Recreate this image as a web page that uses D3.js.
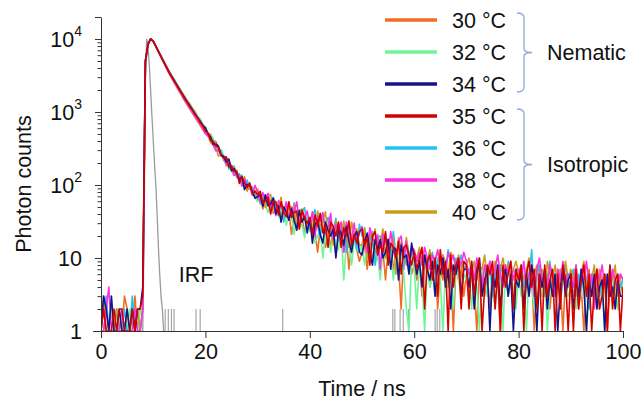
<!DOCTYPE html>
<html>
<head>
<meta charset="utf-8">
<script src="https://cdn.jsdelivr.net/npm/d3@7"></script>
<style>
  body { margin: 0; background: #fff; }
  svg { display: block; font-family: "Liberation Sans", Arial, sans-serif; }
</style>
</head>
<body>
<div id="chart"></div>
<script>
// Fluorescence decay traces, one count per 0.5 ns channel (0 .. 100 ns)
const labels = ["30 °C", "32 °C", "34 °C", "35 °C", "36 °C", "38 °C", "40 °C"];
const colors = ["#f26d21", "#6ff59a", "#14148c", "#d40000", "#22c3f0", "#ff2ee8", "#cc9a1c"];
const drawOrder = [0, 1, 4, 6, 5, 2, 3]; // red ends up on top
const step = 0.5;

const counts30 = [
  1,1,2,1,1,1,2,1,1,3,2,1,1,3,1,2,2,4800,8400,10000,
  9350,7960,6850,5820,5020,4250,3670,3185,2815,2430,2155,1870,1655,1440,1298,1126,1012,871,792,681,
  619,505,495,405,395,304,289,222,240,210,174,182,126,141,116,129,86,91,76,84,
  62,74,47,62,55,62,41,44,58,32,43,36,42,21,40,30,25,37,22,27,
  30,20,23,12,25,28,14,19,15,26,11,19,16,12,20,7,16,18,13,9,
  12,15,7,17,10,12,17,7,13,5,13,11,7,13,8,2,13,8,11,6,
  8,5,9,3,7,10,4,6,8,2,7,5,9,4,6,1,8,5,7,3,
  6,3,7,4,1,8,5,3,6,2,7,4,5,1,6,8,3,5,2,6,
  4,7,2,5,3,6,1,5,8,3,4,6,2,5,3,7,4,1,6,4,
  5,3,6,2,4,1,5,7,3,4,2,6,3,5,1,4,6,3,2,5,
  3];
const counts32 = [
  1,2,1,1,2,1,1,1,2,1,1,2,1,1,1,2,2,5100,8500,10000,
  9310,7990,6810,5850,4985,4270,3640,3195,2790,2440,2125,1862,1632,1448,1276,1130,996,880,776,683,
  623,494,475,433,345,294,308,255,218,214,152,176,151,122,137,104,85,94,95,67,
  59,68,74,53,42,57,48,56,37,39,50,28,41,37,21,37,26,29,19,36,
  23,29,16,20,25,10,22,22,12,23,15,13,24,5,15,17,8,18,13,12,
  15,8,16,11,17,8,11,5,13,11,8,13,5,11,9,14,6,2,1,11,
  7,2,9,5,1,8,4,6,3,9,5,1,7,4,6,2,8,5,3,6,
  5,7,2,6,4,1,7,5,3,8,4,2,6,5,1,7,3,6,4,2,
  6,3,5,1,7,4,2,6,5,3,7,1,4,6,3,5,2,7,4,3,
  4,6,2,5,3,7,1,4,5,3,6,2,4,1,5,3,6,4,2,5,
  4];
const counts34 = [
  1,3,2,1,3,1,1,2,1,1,2,1,2,1,2,2,4,5000,8500,10000,
  9340,7955,6790,5780,4935,4205,3590,3125,2725,2375,2070,1810,1578,1392,1226,1085,955,843,745,657,
  607,501,457,362,365,340,258,248,207,227,157,169,143,118,131,86,102,99,81,66,
  69,74,51,73,52,55,66,40,52,31,50,43,33,47,33,24,45,31,37,22,
  35,16,29,33,21,16,31,24,20,25,10,25,22,15,27,17,12,20,23,12,
  11,17,22,12,8,18,13,18,10,12,18,7,14,13,5,15,10,11,6,16,
  10,6,9,4,11,7,5,9,3,8,6,10,4,7,2,8,6,9,3,7,
  7,4,8,2,6,9,3,5,7,1,6,4,8,2,5,7,3,6,1,5,
  4,7,2,6,3,8,5,1,6,4,7,2,5,3,6,1,4,7,3,5,
  6,2,5,3,7,4,1,5,3,6,2,4,5,1,6,3,4,2,5,3,
  3];
const counts35 = [
  1,2,1,1,1,2,1,2,2,1,1,1,2,1,2,2,3,5000,8500,10000,
  9310,7965,6720,5790,4870,4195,3530,3110,2665,2355,2020,1795,1532,1378,1188,1071,921,834,716,645,
  546,517,405,397,341,328,253,235,243,176,181,154,153,105,131,107,92,107,76,82,
  74,82,56,61,68,40,60,59,39,59,43,37,59,36,42,44,25,45,35,30,
  36,21,39,27,41,22,28,14,31,27,20,31,14,26,20,32,15,21,16,23,
  25,15,19,8,20,23,11,15,12,23,8,16,14,10,17,6,14,15,11,8,
  12,7,10,14,2,9,11,5,10,3,13,6,9,1,11,4,8,10,2,9,
  8,2,9,3,7,10,1,4,8,6,9,2,7,1,8,4,6,9,2,7,
  5,8,1,6,9,4,7,2,6,1,8,3,5,7,1,6,2,8,5,1,
  6,1,7,2,5,8,3,6,1,4,7,2,3,6,1,8,2,5,6,1,
  4];
const counts36 = [
  1,2,3,1,1,1,2,1,1,2,1,1,3,1,2,1,2,4900,8400,10000,
  9320,7920,6730,5710,4860,4120,3510,3040,2640,2295,1995,1740,1515,1330,1168,1030,905,797,700,619,
  541,495,397,402,319,298,292,216,219,165,184,159,129,143,112,91,117,91,93,70,
  84,55,70,74,55,46,68,56,49,56,31,55,50,37,57,38,30,43,49,28,
  25,36,46,27,19,36,28,36,21,24,35,17,28,26,12,28,19,22,13,29,
  20,26,13,17,23,8,19,20,10,22,13,11,23,11,14,16,7,17,12,11,
  12,9,13,8,11,7,10,12,6,10,8,11,7,13,9,6,10,8,11,7,
  8,6,9,5,7,10,4,8,6,9,3,7,5,8,6,4,9,5,7,6,
  6,8,4,7,5,13,3,6,8,4,7,5,9,3,6,4,7,5,8,4,
  5,7,3,6,4,8,5,2,6,4,7,3,5,6,4,8,3,5,6,4,
  5];
const counts38 = [
  1,1,2,4,1,1,1,1,2,1,1,1,1,2,1,1,2,4700,8300,10000,
  9300,7890,6690,5660,4800,4060,3440,2980,2585,2240,1940,1690,1470,1290,1130,998,875,770,676,596,
  502,468,441,351,293,301,255,248,192,181,186,135,146,131,96,120,96,95,72,99,
  80,59,79,62,77,51,58,38,61,53,43,59,33,50,42,59,31,42,34,44,
  28,43,20,37,32,42,22,26,41,18,29,24,31,12,31,23,18,30,16,22,
  27,16,12,26,19,16,21,7,21,18,12,23,14,10,17,20,10,17,7,14,
  13,9,12,8,14,10,7,11,9,13,8,10,6,12,9,11,7,10,8,12,
  9,6,8,5,10,7,4,8,6,9,5,7,11,6,4,8,6,9,5,7,
  7,5,9,4,6,8,3,7,10,5,6,4,8,6,3,7,5,9,4,6,
  6,4,8,3,7,5,9,4,6,2,7,5,8,4,6,3,7,5,4,6,
  5];
const counts40 = [
  1,3,1,1,1,1,2,1,1,1,2,1,1,1,2,1,2,4600,8200,10000,
  9290,7860,6650,5610,4750,4010,3390,2930,2535,2190,1890,1645,1425,1250,1095,965,845,741,650,572,
  508,474,380,350,330,250,260,238,183,203,158,137,159,118,117,114,82,104,86,77,
  88,67,71,49,70,74,47,56,46,68,37,53,47,36,54,25,44,47,37,27,
  33,40,21,44,27,32,43,20,32,15,32,27,19,32,21,14,31,21,25,15,
  15,25,10,22,18,25,12,15,25,10,18,14,19,6,19,14,11,19,10,14,
  12,10,14,8,11,9,13,7,10,12,8,11,9,6,12,10,8,11,7,9,
  8,10,6,9,5,8,7,11,5,8,6,9,4,7,10,6,8,5,7,9,
  6,8,5,7,10,4,6,8,5,7,3,9,6,5,8,4,7,6,9,5,
  7,5,8,3,6,9,4,6,5,8,3,7,5,6,4,7,5,8,3,6,
  5];
const seriesCounts = [counts30, counts32, counts34, counts35, counts36, counts38, counts40];

// instrument response function
const irfTime   = [7.75, 8, 8.25, 8.5, 8.75, 9, 9.25, 9.5, 9.75, 10, 10.25, 10.5, 10.75, 11, 11.25, 11.5, 11.75, 12];
const irfCounts = [1, 1, 20, 2500, 10000, 8000, 4500, 2000, 900, 420, 200, 100, 40, 14, 6, 3, 2, 1];
const irfSpikeTimes  = [12.3, 12.9, 13.5, 14.0, 18.2, 19.0, 34.8, 55.9, 56.3, 57.3, 57.9, 58.9, 64.0, 64.4, 64.9];
const irfSpikeCounts = [2, 2, 2, 2, 2, 2, 2, 2, 2, 2, 2, 2, 2, 2, 2];

const phaseNames = ["Nematic", "Isotropic"];
const phaseFirst = [0, 3];
const phaseLast  = [2, 6];

const xTicks = [0, 20, 40, 60, 80, 100];
const yMajor = [1, 10, 100, 1000, 10000];

const W = 643, H = 401;
const FONT = 21.5;
const time = d3.range(0, 100 + step / 2, step);

const x = d3.scaleLinear().domain([0, 100]).range([101, 623]);
const y = d3.scaleLog().domain([1, 20000]).range([331, 17]);

const svg = d3.select("#chart").append("svg")
  .attr("width", W).attr("height", H);

svg.append("clipPath").attr("id", "plot")
  .append("rect")
  .attr("x", x(0)).attr("y", y(20000))
  .attr("width", x(100) - x(0)).attr("height", y(1) - y(20000));

const plot = svg.append("g").attr("clip-path", "url(#plot)");

// IRF first, underneath everything
plot.append("path")
  .datum(irfTime.map((t, i) => [t, irfCounts[i]]))
  .attr("fill", "none").attr("stroke", "#9a9a9a").attr("stroke-width", 1.3)
  .attr("d", d3.line().x(d => x(d[0])).y(d => y(d[1])));

plot.append("g").selectAll("line")
  .data(irfSpikeTimes)
  .join("line")
  .attr("x1", d => x(d)).attr("x2", d => x(d))
  .attr("y1", y(1)).attr("y2", (d, i) => y(irfSpikeCounts[i]))
  .attr("stroke", "#a6a6a6").attr("stroke-width", 1.2);

const line = d3.line()
  .x((d, i) => x(time[i]))
  .y(d => y(Math.max(1, d)));

plot.append("g").selectAll("path")
  .data(drawOrder)
  .join("path")
  .attr("fill", "none")
  .attr("stroke", k => colors[k])
  .attr("stroke-width", 1.6)
  .attr("stroke-linejoin", "round")
  .attr("d", k => line(seriesCounts[k]));

// axes
const axisColor = "#333";
const xAxis = svg.append("g")
  .attr("transform", `translate(0,${y(1)})`)
  .call(d3.axisBottom(x).tickValues(xTicks).tickSize(7).tickPadding(6).tickSizeOuter(0));
xAxis.select(".domain").attr("stroke", axisColor).attr("d", `M${x(0) - 8},0.5H${x(100)}`);
xAxis.selectAll(".tick line").attr("stroke", axisColor);
xAxis.selectAll(".tick text").attr("font-size", FONT).attr("fill", "#111")
  .attr("font-family", "Liberation Sans, Arial, sans-serif");

const minors = [];
for (let e = 0; e < 5; e++) for (let m = 2; m <= 9; m++) minors.push(m * Math.pow(10, e));
const yMinor = minors.filter(v => v < 20000).concat([20000]);

const yAxis = svg.append("g").attr("transform", `translate(${x(0)},0)`);
yAxis.call(d3.axisLeft(y).tickValues(yMinor).tickSize(3.5).tickFormat("").tickSizeOuter(0));
yAxis.call(g => g.select(".domain").attr("stroke", axisColor));
yAxis.append("g").call(d3.axisLeft(y).tickValues(yMajor.concat([20000])).tickSize(6).tickFormat("").tickSizeOuter(0))
  .call(g => g.select(".domain").remove());
yAxis.selectAll("line").attr("stroke", axisColor);

const yLabels = svg.append("g").attr("font-size", FONT).attr("fill", "#111");
yMajor.forEach(v => {
  const exp = Math.round(Math.log10(v));
  const t = yLabels.append("text")
    .attr("x", 82).attr("y", y(v)).attr("dy", "0.36em")
    .attr("text-anchor", "end");
  if (exp < 2) {
    t.text(String(v));
  } else {
    t.append("tspan").text("10");
    t.append("tspan").attr("font-size", 14).attr("dy", "-0.75em").text(exp);
  }
});

svg.append("text")
  .attr("transform", `translate(23,${(y(1) + y(20000)) / 2 + 10}) rotate(-90)`)
  .attr("text-anchor", "middle").attr("dy", "0.35em")
  .attr("font-size", FONT).attr("fill", "#111")
  .text("Photon counts");

svg.append("text")
  .attr("x", (x(0) + x(100)) / 2).attr("y", 388).attr("dy", "0.35em")
  .attr("text-anchor", "middle")
  .attr("font-size", FONT).attr("fill", "#111")
  .text("Time / ns");

svg.append("text")
  .attr("x", x(14.9)).attr("y", y(6)).attr("dy", "0.35em")
  .attr("font-size", FONT).attr("fill", "#111")
  .text("IRF");

// legend
const legendY = d3.scaleLinear().domain([0, 6]).range([20, 212]);
const legend = svg.append("g");
const rows = legend.selectAll("g").data(labels).join("g")
  .attr("transform", (d, i) => `translate(0,${legendY(i)})`);
rows.append("line")
  .attr("x1", 385).attr("x2", 437)
  .attr("stroke", (d, i) => colors[i]).attr("stroke-width", 3.5);
rows.append("text")
  .attr("x", 452).attr("dy", "0.36em")
  .attr("font-size", FONT).attr("fill", "#111")
  .text(d => d);

const braceColor = "#8eaadb";
phaseNames.forEach((name, g) => {
  const y0 = legendY(phaseFirst[g]) - 7;
  const y1 = legendY(phaseLast[g]) + 8;
  const ym = (y0 + y1) / 2;
  const xh = 517, xv = 524, xp = 532;
  legend.append("path")
    .attr("fill", "none").attr("stroke", braceColor).attr("stroke-width", 1.3)
    .attr("d", `M${xh},${y0} Q${xv},${y0} ${xv},${y0 + 5} L${xv},${ym - 4} Q${xv},${ym} ${xp},${ym}` +
               ` Q${xv},${ym} ${xv},${ym + 4} L${xv},${y1 - 5} Q${xv},${y1} ${xh},${y1}`);
  legend.append("text")
    .attr("x", 547).attr("y", ym).attr("dy", "0.36em")
    .attr("font-size", FONT).attr("fill", "#111")
    .text(name);
});
</script>
</body>
</html>
